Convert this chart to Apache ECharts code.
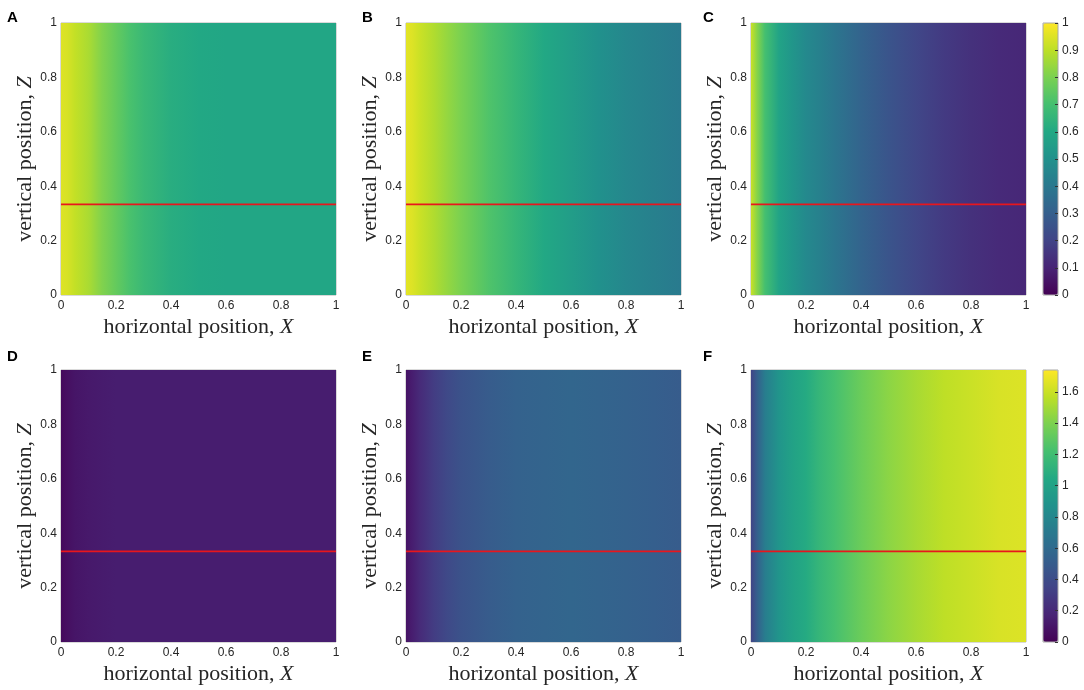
<!DOCTYPE html>
<html lang="en">
<head>
<meta charset="UTF-8">
<title>Profiles A-F</title>
<script src="https://cdn.jsdelivr.net/npm/echarts@6/dist/echarts.min.js"></script>
<style>
    html, body { margin: 0; padding: 0; background: #fff; }
    #main { width: 1084px; height: 690px; }
</style>
</head>
<body>
<div id="main"></div>
<script>
    // sample positions along X (colour only depends on X)
    var xs = [0, 0.02, 0.05, 0.1, 0.15, 0.2, 0.25, 0.3, 0.4, 0.5, 0.6, 0.7, 0.8, 0.9, 1];
    // top row, colour scale 0..1
    var panelA = [0.95, 0.94, 0.91, 0.87, 0.81, 0.76, 0.71, 0.67, 0.62, 0.60, 0.59, 0.59, 0.59, 0.59, 0.59];
    var panelB = [0.96, 0.95, 0.92, 0.88, 0.84, 0.80, 0.76, 0.72, 0.66, 0.60, 0.55, 0.50, 0.46, 0.43, 0.41];
    var panelC = [0.92, 0.82, 0.70, 0.58, 0.52, 0.47, 0.43, 0.39, 0.32, 0.26, 0.21, 0.17, 0.14, 0.12, 0.11];
    // bottom row, colour scale 0..1.74
    var panelD = [0.04, 0.07, 0.10, 0.12, 0.13, 0.14, 0.14, 0.14, 0.14, 0.14, 0.14, 0.14, 0.14, 0.14, 0.14];
    var panelE = [0.09, 0.14, 0.21, 0.31, 0.38, 0.44, 0.47, 0.50, 0.54, 0.56, 0.57, 0.56, 0.54, 0.52, 0.50];
    var panelF = [0.35, 0.52, 0.73, 0.90, 0.99, 1.06, 1.15, 1.22, 1.34, 1.44, 1.51, 1.57, 1.60, 1.64, 1.65];
    var letters = ['A', 'B', 'C', 'D', 'E', 'F'];
    var lineZ = 1 / 3;
    var topMax = 1;
    var bottomMax = 1.74;

    var VIRIDIS = ['#440154', '#482475', '#414487', '#355f8d', '#2a788e', '#21918c',
        '#22a884', '#44bf70', '#7ad151', '#bddf26', '#fde725'];

    function hexRgb(h) {
        return [parseInt(h.substr(1, 2), 16), parseInt(h.substr(3, 2), 16), parseInt(h.substr(5, 2), 16)];
    }
    var viridisRgb = VIRIDIS.map(hexRgb);

    function viridis(t) {
        t = Math.max(0, Math.min(1, t));
        var p = t * (viridisRgb.length - 1);
        var i = Math.min(Math.floor(p), viridisRgb.length - 2);
        var f = p - i;
        var a = viridisRgb[i], b = viridisRgb[i + 1];
        return 'rgb(' + Math.round(a[0] + (b[0] - a[0]) * f) + ',' +
            Math.round(a[1] + (b[1] - a[1]) * f) + ',' +
            Math.round(a[2] + (b[2] - a[2]) * f) + ')';
    }

    function gradientItem(max) {
        return function (params, api) {
            var a = api.coord([api.value(0), 1]);
            var b = api.coord([api.value(1), 0]);
            // snap to whole pixels so neighbouring strips meet without seams
            var x0 = Math.round(a[0]), x1 = Math.round(b[0]);
            return {
                type: 'rect',
                shape: {x: x0, y: Math.round(a[1]), width: x1 - x0, height: Math.round(b[1]) - Math.round(a[1])},
                style: {
                    fill: new echarts.graphic.LinearGradient(0, 0, 1, 0, [
                        {offset: 0, color: viridis(api.value(2) / max)},
                        {offset: 1, color: viridis(api.value(3) / max)}
                    ])
                }
            };
        };
    }

    function toSegments(vals) {
        var out = [];
        for (var j = 0; j < xs.length - 1; j++) {
            out.push([xs[j], xs[j + 1], vals[j], vals[j + 1]]);
        }
        return out;
    }

    var panels = [panelA, panelB, panelC, panelD, panelE, panelF];
    var lefts = [61, 406, 751];
    var tops = [23, 370];
    var PW = 275, PH = 272;

    var sans = 'Liberation Sans, Arial, sans-serif';
    var serif = 'Liberation Serif, Times New Roman, serif';

    var grid = [], xAxis = [], yAxis = [], series = [], title = [];

    for (var i = 0; i < 6; i++) {
        var col = i % 3, row = Math.floor(i / 3);
        grid.push({
            left: lefts[col], top: tops[row], width: PW, height: PH,
            show: true, borderColor: '#b4b4b4', borderWidth: 1, backgroundColor: 'transparent'
        });
        xAxis.push({
            gridIndex: i, type: 'value', min: 0, max: 1, interval: 0.2,
            axisLine: {show: false}, axisTick: {show: false}, splitLine: {show: false},
            axisLabel: {color: '#262626', fontSize: 12, fontFamily: sans, margin: 5},
            name: '{n|horizontal position, }{i|X}',
            nameLocation: 'middle', nameGap: 21,
            nameTextStyle: {
                rich: {
                    n: {fontFamily: serif, fontSize: 22, color: '#262626'},
                    i: {fontFamily: serif, fontSize: 22, fontStyle: 'italic', color: '#262626'}
                }
            }
        });
        yAxis.push({
            gridIndex: i, type: 'value', min: 0, max: 1, interval: 0.2,
            axisLine: {show: false}, axisTick: {show: false}, splitLine: {show: false},
            axisLabel: {color: '#262626', fontSize: 12, fontFamily: sans, margin: 4},
            name: '{n|vertical position, }{i|Z}',
            nameLocation: 'middle', nameGap: 24,
            nameTextStyle: {
                rich: {
                    n: {fontFamily: serif, fontSize: 22, color: '#262626'},
                    i: {fontFamily: serif, fontSize: 22, fontStyle: 'italic', color: '#262626'}
                }
            }
        });
        series.push({
            type: 'custom', xAxisIndex: i, yAxisIndex: i, clip: true,
            renderItem: gradientItem(row === 0 ? topMax : bottomMax),
            data: toSegments(panels[i]), silent: true, z: 2
        });
        series.push({
            type: 'line', xAxisIndex: i, yAxisIndex: i, symbol: 'none', silent: true, z: 5,
            lineStyle: {color: '#e8161d', width: 1.6},
            data: [[0, lineZ], [1, lineZ]]
        });
        title.push({
            text: letters[i], left: [7, 362, 703][col], top: row === 0 ? 10 : 349, padding: 0,
            textStyle: {fontFamily: sans, fontWeight: 'bold', fontSize: 15, color: '#000'}
        });
    }

    // colour bar axes
    var cbMax = [topMax, bottomMax];
    for (var r = 0; r < 2; r++) {
        var gi = 6 + r;
        grid.push({
            left: 1043, top: tops[r], width: 15, height: PH, z: 8,
            show: true, borderColor: '#a8a8a8', borderWidth: 1, backgroundColor: 'transparent'
        });
        xAxis.push({gridIndex: gi, type: 'value', min: 0, max: 1, show: false});
        yAxis.push({
            gridIndex: gi, type: 'value', min: 0, max: cbMax[r], interval: r === 0 ? 0.1 : 0.2,
            position: 'right', z: 9,
            axisLine: {show: false, onZero: false}, splitLine: {show: false},
            axisTick: {show: true, inside: true, length: 3, lineStyle: {color: '#333'}},
            axisLabel: {color: '#262626', fontSize: 12, fontFamily: sans, margin: 4, showMaxLabel: r === 0}
        });
    }

    var visualMap = [0, 1].map(function (r) {
        return {
            type: 'continuous', min: 0, max: cbMax[r], seriesIndex: [], z: 1,
            left: 1043, top: tops[r], itemWidth: 15, itemHeight: PH, padding: 0,
            calculable: false, hoverLink: false, text: null,
            inRange: {color: VIRIDIS}
        };
    });

    var myChart = echarts.init(document.getElementById('main'));
    myChart.setOption({
        animation: false,
        title: title,
        grid: grid,
        xAxis: xAxis,
        yAxis: yAxis,
        visualMap: visualMap,
        series: series
    });
</script>
</body>
</html>
